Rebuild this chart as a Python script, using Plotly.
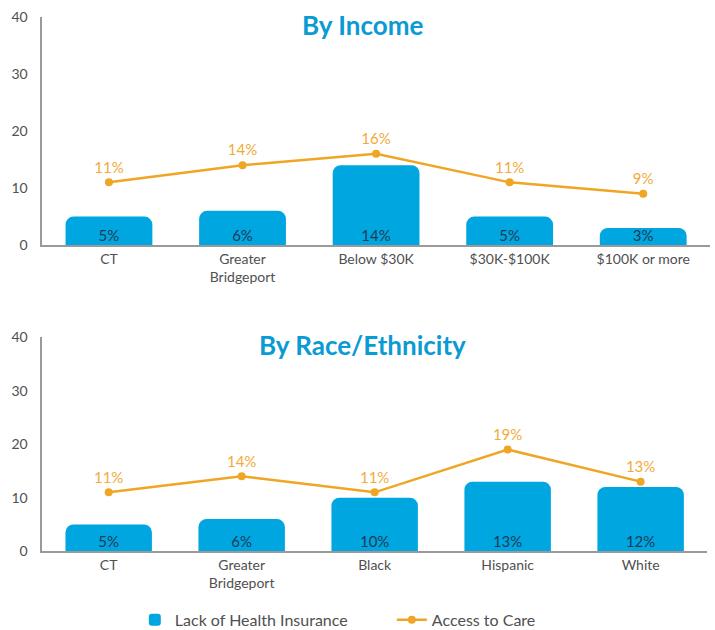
import plotly.graph_objects as go

income_cats = ["CT", "Greater<br>Bridgeport", "Below $30K", "$30K-$100K", "$100K or more"]
income_uninsured = [5, 6, 14, 5, 3]
income_access = [11, 14, 16, 11, 9]

race_cats = ["CT", "Greater<br>Bridgeport", "Black", "Hispanic", "White"]
race_uninsured = [5, 6, 10, 13, 12]
race_access = [11, 14, 11, 19, 13]

y_ticks = [0, 10, 20, 30, 40]

BAR = "#00a6e0"
LINE = "#eea624"
LINE_TXT = "#f2ab3a"
BAR_TXT = "#1e3a54"
AXIS = "#9a9a9a"
TICK = "#505050"
TITLE = "#0a9ad4"
FONT = "Lato"

fig = go.Figure()

def add_panel(cats, bars, line, xa, ya, show):
    fig.add_trace(go.Bar(
        x=cats, y=bars, xaxis=xa, yaxis=ya, name="Lack of Health Insurance",
        marker=dict(color=BAR, cornerradius=8, line=dict(width=0)),
        width=0.65,
        showlegend=show, legendgroup="bar", hoverinfo="skip",
    ))
    # bar value labels at the base of each bar
    fig.add_trace(go.Scatter(
        x=cats, y=[0] * len(bars), xaxis=xa, yaxis=ya, mode="text",
        text=[f"{v}%" for v in bars], textposition="top center",
        textfont=dict(color=BAR_TXT, size=15, family=FONT),
        showlegend=False, hoverinfo="skip",
    ))
    fig.add_trace(go.Scatter(
        x=cats, y=line, xaxis=xa, yaxis=ya, name="Access to Care",
        mode="lines+markers+text",
        line=dict(color=LINE, width=2.5), marker=dict(color=LINE, size=8),
        text=[f"{v}%" for v in line], textposition="top center",
        textfont=dict(color=LINE_TXT, size=15, family=FONT),
        showlegend=show, legendgroup="line", hoverinfo="skip",
    ))

add_panel(income_cats, income_uninsured, income_access, "x", "y", True)
add_panel(race_cats, race_uninsured, race_access, "x2", "y2", False)

xcommon = dict(showgrid=False, showline=True, linecolor=AXIS, linewidth=1.5,
               ticks="", automargin=False,
               tickfont=dict(color=TICK, size=14, family=FONT), fixedrange=True)
ycommon = dict(showgrid=False, showline=True, linecolor=AXIS, linewidth=1.5, range=[0, 40],
               tickvals=y_ticks, ticks="", zeroline=False, automargin=False,
               ticklabelstandoff=10,
               tickfont=dict(color=TICK, size=14, family=FONT), fixedrange=True)

fig.update_layout(
    width=715, height=630,
    margin=dict(l=0, r=0, t=0, b=0, autoexpand=False),
    paper_bgcolor="white", plot_bgcolor="white",
    font=dict(family=FONT, color=TICK),
    bargap=0.35,
    xaxis=dict(domain=[0.059, 0.993], anchor="y", **xcommon),
    yaxis=dict(domain=[0.611, 0.973], anchor="x", **ycommon),
    xaxis2=dict(domain=[0.059, 0.989], anchor="y2", **xcommon),
    yaxis2=dict(domain=[0.125, 0.465], anchor="x2", **ycommon),
    legend=dict(orientation="h", x=0.548, xanchor="center", y=0.016, yanchor="middle",
                font=dict(size=16, color=TICK, family=FONT), entrywidth=212,
                itemwidth=30, traceorder="normal"),
    annotations=[
        dict(text="<b>By Income</b>", x=0.507, y=0.96, xref="paper", yref="paper",
             yanchor="middle", showarrow=False, font=dict(size=26, color=TITLE, family=FONT)),
        dict(text="<b>By Race/Ethnicity</b>", x=0.507, y=0.452, xref="paper", yref="paper",
             yanchor="middle", showarrow=False, font=dict(size=26, color=TITLE, family=FONT)),
    ],
)

fig.write_html("out.html", config={"displayModeBar": False},
               post_script="document.body.style.margin='0';document.body.style.overflow='hidden';")
